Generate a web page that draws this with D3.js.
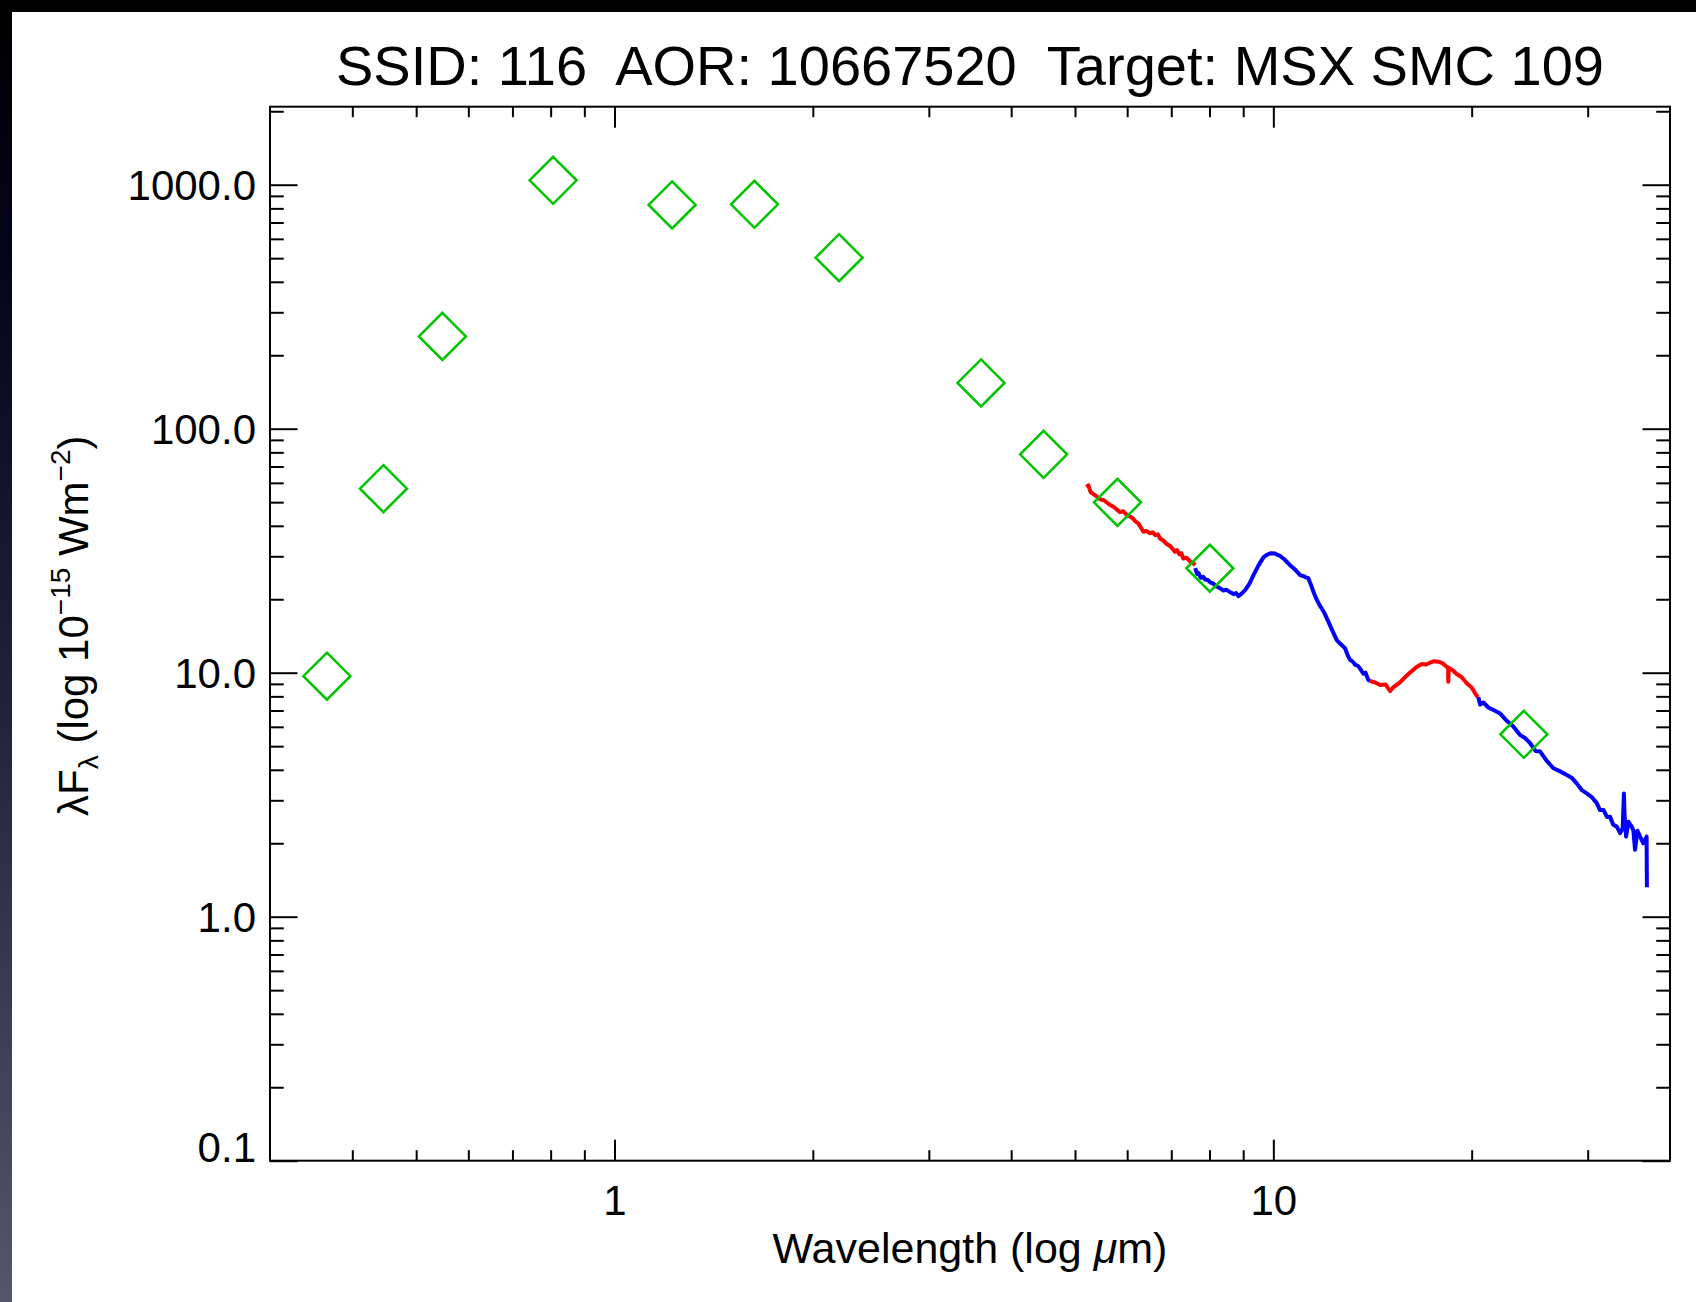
<!DOCTYPE html>
<html>
<head>
<meta charset="utf-8">
<script src="https://cdn.jsdelivr.net/npm/d3@7"></script>
<style>
  body { margin: 0; background: #fff; }
  text { font-family: "Liberation Sans", Arial, Helvetica, sans-serif; fill: #000; }
</style>
</head>
<body>
<svg id="chart" width="1696" height="1302"></svg>
<script>
// photometry (diamonds)
const photWave = [0.366, 0.446, 0.548, 0.807, 1.223, 1.631, 2.192, 3.60, 4.48, 5.80, 8.01, 24.0]
const photFlux = [9.68, 56.8, 239, 1042, 826, 831, 502, 154, 78.5, 49.9, 26.8, 5.59]

// IRS spectrum, one array per module
const sl2Wave = [5.20, 5.24, 5.28, 5.36, 5.46, 5.53, 5.60, 5.66, 5.72, 5.78, 5.85, 5.92, 5.99, 6.05, 6.12, 6.18, 6.24, 6.30, 6.35, 6.42, 6.50, 6.56, 6.62, 6.68, 6.73, 6.80, 6.89, 6.98, 7.09, 7.14, 7.20, 7.25, 7.30, 7.38, 7.45, 7.50, 7.56, 7.61]
const sl2Flux = [57.8, 58.6, 55.0, 53.4, 51.4, 50.9, 49.6, 48.6, 47.9, 46.8, 45.5, 45.9, 44.3, 43.8, 42.9, 41.6, 40.9, 39.2, 37.8, 38.1, 37.3, 37.6, 36.6, 36.9, 35.5, 34.9, 33.7, 33.0, 31.3, 31.8, 30.6, 30.9, 29.4, 29.6, 28.9, 28.3, 28.1, 27.6]

const sl1Wave = [7.61, 7.66, 7.70, 7.76, 7.83, 7.88, 7.95, 8.03, 8.11, 8.18, 8.25, 8.32, 8.40, 8.48, 8.55, 8.62, 8.70, 8.78, 8.85, 8.95, 9.06, 9.20, 9.33, 9.50, 9.66, 9.77, 9.92, 10.06, 10.15, 10.24, 10.40, 10.60, 10.80, 10.98, 11.15, 11.20, 11.30, 11.40, 11.50, 11.62, 11.77, 11.95, 12.12, 12.30, 12.48, 12.65, 12.85, 12.95, 13.07, 13.20, 13.30, 13.42, 13.54, 13.70, 13.80, 13.94, 14.02]
const sl1Flux = [26.8, 25.4, 25.6, 24.5, 24.7, 24.1, 24.0, 23.4, 23.2, 22.6, 22.4, 22.1, 21.7, 21.9, 21.6, 21.3, 21.0, 21.2, 20.6, 21.1, 21.8, 23.2, 25.1, 27.6, 29.7, 30.4, 30.9, 30.8, 30.4, 30.1, 29.1, 27.6, 26.4, 25.1, 24.8, 24.6, 24.4, 23.0, 21.5, 20.1, 18.8, 17.6, 16.2, 14.8, 13.6, 13.1, 12.6, 11.9, 11.3, 11.1, 10.8, 10.7, 10.4, 9.9, 10.0, 9.33, 9.25]

const ll2Wave = [14.02, 14.30, 14.52, 14.80, 15.04, 15.20, 15.57, 15.85, 16.13, 16.50, 16.80, 17.05, 17.29, 17.55, 17.80, 18.05, 18.33, 18.42, 18.43, 18.46, 18.70, 18.98, 19.30, 19.66, 20.00, 20.36, 20.47]
const ll2Flux = [9.25, 9.10, 8.91, 8.95, 8.41, 8.70, 9.12, 9.60, 10.02, 10.55, 10.86, 10.80, 10.99, 11.15, 11.10, 10.95, 10.58, 10.50, 9.19, 10.45, 10.25, 9.88, 9.60, 9.05, 8.70, 8.03, 7.95]

const ll1Wave = [20.47, 20.60, 20.84, 21.20, 21.58, 22.10, 22.61, 23.10, 23.69, 24.10, 24.53, 25.00, 25.41, 26.00, 26.61, 27.20, 27.89, 28.40, 28.87, 29.40, 29.90, 30.40, 30.97, 31.30, 31.70, 32.10, 32.44, 32.80, 33.21, 33.60, 33.90, 34.05, 34.13, 34.31, 34.60, 34.99, 35.20, 35.40, 35.70, 36.03, 36.44, 36.86, 36.88, 36.90]
const ll1Flux = [7.95, 7.40, 7.55, 7.20, 7.03, 6.80, 6.35, 6.05, 5.55, 5.40, 5.14, 4.78, 4.75, 4.35, 4.06, 3.95, 3.81, 3.70, 3.52, 3.30, 3.20, 3.10, 2.92, 2.74, 2.74, 2.56, 2.57, 2.38, 2.34, 2.20, 2.30, 3.20, 2.60, 2.13, 2.45, 2.34, 2.25, 1.88, 2.25, 2.13, 2.00, 2.13, 1.60, 1.32]

// axes
const xMajor = [1, 10]
const xTickLabels = ['1', '10']
const yMajor = [0.1, 1, 10, 100, 1000]
const yTickLabels = ['0.1', '1.0', '10.0', '100.0', '1000.0']

const title = 'SSID: 116  AOR: 10667520  Target: MSX SMC 109'

const W = 1696, H = 1302
const plot = { left: 270, right: 1670, top: 106.7, bottom: 1160.7 }

const svg = d3.select('#chart')

// dark frame along the top and left edges
const grad = svg.append('defs').append('linearGradient')
    .attr('id', 'edge').attr('x1', 0).attr('y1', 0).attr('x2', 0).attr('y2', 1)
grad.append('stop').attr('offset', '0%').attr('stop-color', '#000000')
grad.append('stop').attr('offset', '20%').attr('stop-color', '#04041a')
grad.append('stop').attr('offset', '55%').attr('stop-color', '#22223c')
grad.append('stop').attr('offset', '100%').attr('stop-color', '#55556b')
svg.append('rect').attr('width', W).attr('height', H).attr('fill', '#fff')
svg.append('rect').attr('x', 0).attr('y', 0).attr('width', 12).attr('height', H).attr('fill', 'url(#edge)')
svg.append('rect').attr('x', 0).attr('y', 0).attr('width', W).attr('height', 12).attr('fill', '#000')

const x = d3.scaleLog().domain([0.3, 40]).range([plot.left, plot.right])
const y = d3.scaleLog().domain([0.1, 2088]).range([plot.bottom, plot.top])

function minors(scale) {
    const [a, b] = scale.domain()
    const out = []
    for (let d = Math.pow(10, Math.floor(Math.log10(a))); d < b; d *= 10) {
        for (let k = 2; k <= 9; k++) {
            const v = +(d * k).toPrecision(3)
            if (v > a && v < b) out.push(v)
        }
    }
    return out
}

const xLen = 21, yLen = 27.5

function drawAxis(axis, tx, ty) {
    const g = svg.append('g').attr('transform', `translate(${tx},${ty})`).call(axis)
    g.select('.domain').remove()
    g.selectAll('line').attr('stroke', '#000').attr('stroke-width', 2)
    return g
}

// bottom
const bottom = drawAxis(d3.axisBottom(x).tickValues(xMajor).tickSize(-xLen).tickPadding(0)
    .tickFormat((d, i) => xTickLabels[i]), 0, plot.bottom)
bottom.selectAll('text').attr('font-size', 42).attr('dy', null).attr('y', 54)
drawAxis(d3.axisBottom(x).tickValues(minors(x)).tickSize(-xLen / 2).tickFormat(''), 0, plot.bottom)
// top
drawAxis(d3.axisTop(x).tickValues(xMajor).tickSize(-xLen).tickFormat(''), 0, plot.top)
drawAxis(d3.axisTop(x).tickValues(minors(x)).tickSize(-xLen / 2).tickFormat(''), 0, plot.top)
// left
const left = drawAxis(d3.axisLeft(y).tickValues(yMajor).tickSize(-yLen).tickPadding(14)
    .tickFormat((d, i) => yTickLabels[i]), plot.left, 0)
left.selectAll('text').attr('font-size', 42).attr('dy', '0.36em')
left.selectAll('.tick').filter(d => d === yMajor[0]).select('text').attr('dy', '0.02em')
drawAxis(d3.axisLeft(y).tickValues(minors(y)).tickSize(-yLen / 2).tickFormat(''), plot.left, 0)
// right
drawAxis(d3.axisRight(y).tickValues(yMajor).tickSize(-yLen).tickFormat(''), plot.right, 0)
drawAxis(d3.axisRight(y).tickValues(minors(y)).tickSize(-yLen / 2).tickFormat(''), plot.right, 0)

svg.append('rect')
    .attr('x', plot.left).attr('y', plot.top)
    .attr('width', plot.right - plot.left).attr('height', plot.bottom - plot.top)
    .attr('fill', 'none').attr('stroke', '#000').attr('stroke-width', 2)

// spectrum
const line = d3.line().x(d => x(d[0])).y(d => y(d[1]))
const segments = [
    { wave: sl2Wave, flux: sl2Flux, color: '#ff0000' },
    { wave: sl1Wave, flux: sl1Flux, color: '#0000ff' },
    { wave: ll2Wave, flux: ll2Flux, color: '#ff0000' },
    { wave: ll1Wave, flux: ll1Flux, color: '#0000ff' }
]
svg.selectAll('.spec')
    .data(segments)
    .enter().append('path')
    .attr('class', 'spec')
    .attr('d', s => line(s.wave.map((w, i) => [w, s.flux[i]])))
    .attr('fill', 'none')
    .attr('stroke', s => s.color)
    .attr('stroke-width', 4)
    .attr('stroke-linejoin', 'round')

// photometry diamonds
const r = 23.5
svg.selectAll('.phot')
    .data(photWave.map((w, i) => [w, photFlux[i]]))
    .enter().append('path')
    .attr('class', 'phot')
    .attr('d', d => {
        const cx = x(d[0]), cy = y(d[1])
        return `M${cx},${cy - r}L${cx + r},${cy}L${cx},${cy + r}L${cx - r},${cy}Z`
    })
    .attr('fill', 'none')
    .attr('stroke', '#00c400')
    .attr('stroke-width', 2.5)

// titles
const midX = (plot.left + plot.right) / 2
svg.append('text')
    .attr('x', midX).attr('y', 85)
    .attr('text-anchor', 'middle').attr('font-size', 56)
    .style('white-space', 'pre')
    .text(title)

const xt = svg.append('text')
    .attr('x', midX).attr('y', 1263)
    .attr('text-anchor', 'middle').attr('font-size', 43)
xt.append('tspan').text('Wavelength (log ')
xt.append('tspan').attr('font-style', 'italic').text('\u03bc')
xt.append('tspan').text('m)')

const yt = svg.append('text')
    .attr('transform', `translate(88,${(plot.top + plot.bottom) / 2 - 8}) rotate(-90)`)
    .attr('text-anchor', 'middle').attr('font-size', 42)
yt.append('tspan').text('\u03bbF')
yt.append('tspan').attr('font-size', 28).attr('dy', 10).text('\u03bb')
yt.append('tspan').attr('dy', -10).text(' (log 10')
yt.append('tspan').attr('font-size', 28).attr('dy', -18).text('\u221215')
yt.append('tspan').attr('dy', 18).text(' Wm')
yt.append('tspan').attr('font-size', 28).attr('dy', -18).text('\u22122')
yt.append('tspan').attr('dy', 18).text(')')
</script>
</body>
</html>
